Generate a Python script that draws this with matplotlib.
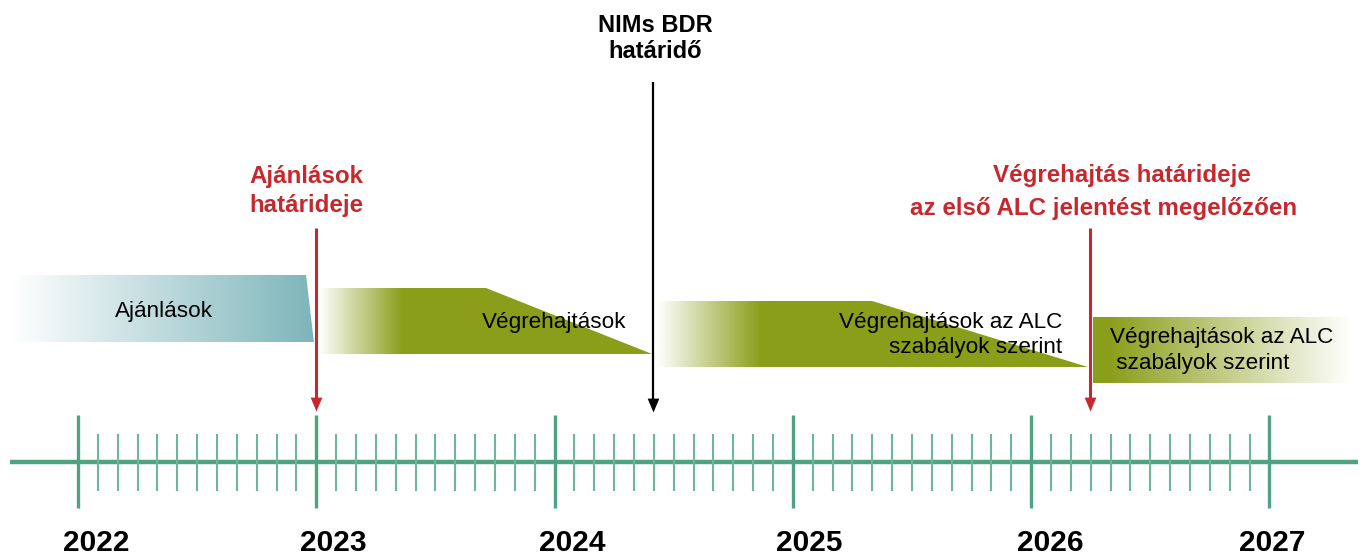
import numpy as np
import matplotlib.pyplot as plt
from matplotlib.patches import Polygon
from matplotlib.colors import to_rgb

plt.rcParams['font.family'] = ['Liberation Sans', 'DejaVu Sans']

# --- data -------------------------------------------------------------
years = [2022, 2023, 2024, 2025, 2026, 2027]
year_labels = ['2022', '2023', '2024', '2025', '2026', '2027']

# phases: start, year where the top edge starts to slope, end (in years)
phase_names = ['Ajánlások', 'Végrehajtások',
               'Végrehajtások az ALC\nszabályok szerint',
               'Végrehajtások az ALC\n szabályok szerint']
phase_start = [2021.723, 2023.011, 2024.430, 2026.259]
phase_slope = [2022.957, 2023.712, 2025.332, 2027.338]
phase_end = [2022.990, 2024.409, 2026.238, 2027.338]

# deadlines marked with arrows
deadline_x = [2023.0, 2024.413, 2026.247]
deadline_text = [['Ajánlások', 'határideje'],
                 ['NIMs BDR', 'határidő'],
                 ['Végrehajtás határideje', 'az első ALC jelentést megelőzően']]

# --- style ------------------------------------------------------------
RED = '#C5282E'
TEAL = '#7DB5BA'
OLIVE = '#8B9E1A'
GREEN = '#4FA282'

PX_PER_YEAR = 238.3
X0_PX = 78

fig = plt.figure(figsize=(13.63, 5.58), dpi=100)
ax = fig.add_axes([0, 0, 1, 1])
ax.set_xlim(2022 - X0_PX / PX_PER_YEAR, 2022 + (1363 - X0_PX) / PX_PER_YEAR)
ax.set_ylim(558, 0)
ax.axis('off')


def gradient_shape(x0, xs, xe, top, bot, stops, sloped_right=True, slant_bottom=None):
    """Polygon filled with a horizontal colour gradient."""
    if slant_bottom is not None:
        verts = [(x0, top), (xs, top), (slant_bottom, bot), (x0, bot)]
        x1 = max(xs, slant_bottom)
    elif sloped_right:
        verts = [(x0, top), (xs, top), (xe, bot), (x0, bot)]
        x1 = xe
    else:
        verts = [(x0, top), (xe, top), (xe, bot), (x0, bot)]
        x1 = xe
    poly = Polygon(verts, closed=True, facecolor='none', edgecolor='none')
    ax.add_patch(poly)
    t = np.linspace(0, 1, 400)
    fr = [s[0] for s in stops]
    cols = np.array([to_rgb(s[1]) for s in stops])
    img = np.stack([np.interp(t, fr, cols[:, k]) for k in range(3)], axis=-1)[None, :, :]
    im = ax.imshow(img, extent=(x0, x1, bot, top), aspect='auto', interpolation='bilinear', zorder=1)
    im.set_clip_path(poly)


# phase 1 (teal, slanted right edge)
gradient_shape(phase_start[0], phase_slope[0], None, 275, 342,
               [(0, '#FFFFFF'), (1, TEAL)], slant_bottom=phase_end[0])
# phase 2 and 3 (olive, sloping top)
gradient_shape(phase_start[1], phase_slope[1], phase_end[1], 288, 354,
               [(0, '#FFFFFF'), (0.25, OLIVE), (1, OLIVE)])
gradient_shape(phase_start[2], phase_slope[2], phase_end[2], 301, 367,
               [(0, '#FFFFFF'), (0.24, OLIVE), (1, OLIVE)])
# phase 4 (olive fading to white)
gradient_shape(phase_start[3], phase_slope[3], phase_end[3], 317, 383,
               [(0, OLIVE), (0.06, OLIVE), (1, '#FFFFFF')], sloped_right=False)

fs_phase = 16.2
ax.text(2022.36, 317, phase_names[0],
        ha='center', va='baseline', fontsize=fs_phase, zorder=3)
ax.text(2024.0, 328, phase_names[1], ha='center', va='baseline', fontsize=fs_phase, zorder=3)
for i, line in enumerate(phase_names[2].split('\n')):
    ax.text(2026.129, 328 + 25 * i, line, ha='right', va='baseline', fontsize=fs_phase, zorder=3)
for i, line in enumerate(phase_names[3].split('\n')):
    ax.text(2026.330, 343 + 26 * i, line, ha='left', va='baseline', fontsize=fs_phase, zorder=3)

# --- timeline axis ----------------------------------------------------
ax.plot([years[0] - 0.285, years[-1] + 0.37], [462, 462], color=GREEN, lw=3.2,
        solid_capstyle='butt', zorder=2)
ax.vlines(years, 415, 508, color=GREEN, lw=2.4, zorder=2)
months = [y + m / 12 for y in years[:-1] for m in range(1, 12)]
ax.vlines(months, 434, 491, color='#6DB698', lw=1.5, zorder=2)

label_dx = [0.075, 0.07, 0.075, 0.07, 0.08, 0.01]
for y, lab, dx in zip(years, year_labels, label_dx):
    ax.text(y + dx, 557, lab, ha='center', va='bottom', fontsize=21.5,
            fontweight='bold', color='black')

# --- deadline arrows --------------------------------------------------
arrow_cfg = [(RED, 228, 411, 2.2), ('black', 82, 412, 1.6), (RED, 228, 411, 2.2)]
head = [(-0.42, 1), (0.42, 1), (0, 0)]
for x, (col, y_from, y_tip, lw) in zip(deadline_x, arrow_cfg):
    ax.plot([x, x], [y_from, y_tip - 10], color=col, lw=lw, solid_capstyle='butt', zorder=4)
    ax.plot([x], [y_tip], marker=head, markersize=20, color=col, markeredgewidth=0, zorder=4)

# deadline captions
fs_red = 17.4
ax.text(2022.96, 183, deadline_text[0][0], ha='center', va='baseline', fontsize=fs_red,
        fontweight='bold', color=RED)
ax.text(2022.96, 212, deadline_text[0][1], ha='center', va='baseline', fontsize=fs_red,
        fontweight='bold', color=RED)
ax.text(deadline_x[1] + 0.01, 32, deadline_text[1][0], ha='center', va='baseline', fontsize=17,
        fontweight='bold', color='black')
ax.text(deadline_x[1] + 0.01, 58, deadline_text[1][1], ha='center', va='baseline', fontsize=17,
        fontweight='bold', color='black')
ax.text(2026.381, 182, deadline_text[2][0], ha='center', va='baseline', fontsize=fs_red,
        fontweight='bold', color=RED)
ax.text(2026.302, 215, deadline_text[2][1], ha='center', va='baseline', fontsize=fs_red,
        fontweight='bold', color=RED)

fig.savefig('out.png', dpi=100)
plt.close(fig)
